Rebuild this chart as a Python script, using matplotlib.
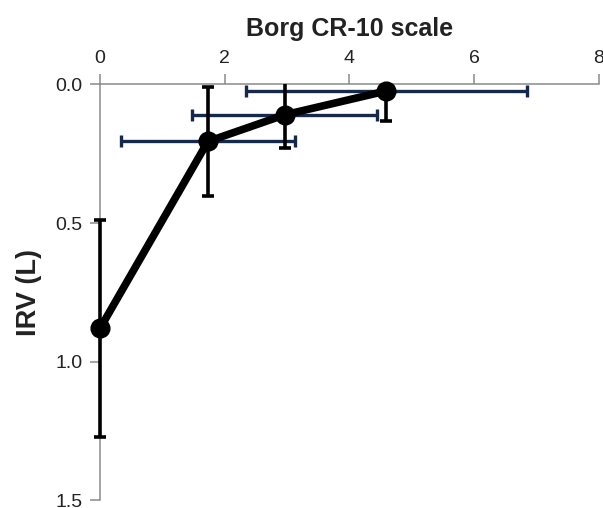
import matplotlib

matplotlib.use("Agg")
import matplotlib.pyplot as plt
from matplotlib.patches import Rectangle

# Borg CR-10 rating vs IRV (mean +/- SD)
borg = [0.0, 1.73, 2.96, 4.59]
borg_sd = [0.0, 1.39, 1.48, 2.25]
irv = [0.88, 0.206, 0.11, 0.024]
irv_sd = [0.39, 0.195, 0.12, 0.108]

x_ticks = [0, 2, 4, 6, 8]
y_ticks = [0.0, 0.5, 1.0, 1.5]
y_tick_labels = ["0.0", "0.5", "1.0", "1.5"]

plt.rcParams["font.family"] = ["Liberation Sans", "DejaVu Sans"]

fig = plt.figure(figsize=(6.03, 5.08), dpi=100)
ax = fig.add_axes([0.1658, 0.0148, 0.8276, 0.8192])

navy = "#15294a"
grey = "#8a8a8a"

# horizontal error bars (Borg SD)
hbar = ax.errorbar(
    borg, irv, xerr=borg_sd, fmt="none", ecolor=navy,
    elinewidth=2.4, capsize=4.5, capthick=2.4, zorder=2,
)

# vertical error bars (IRV SD)
vbar = ax.errorbar(
    borg, irv, yerr=irv_sd, fmt="none", ecolor="black",
    elinewidth=2.6, capsize=4.5, capthick=2.6, zorder=3,
)

# clip to the plot area at the top, but let the x=0 bar show in full
clip = Rectangle((-0.05, 0), 1.1, 1.0, transform=ax.transAxes,
                 facecolor="none", edgecolor="none")
ax.add_patch(clip)
for eb in (hbar, vbar):
    for art in list(eb.lines[1]) + list(eb.lines[2]):
        art.set_clip_path(clip)

ax.plot(borg, irv, color="black", linewidth=5.5, marker="o",
        markersize=13.5, zorder=4, clip_on=False)

ax.set_xlim(0, 8)
ax.set_ylim(1.5, 0)
ax.set_xticks(x_ticks)
ax.set_yticks(y_ticks)
ax.set_yticklabels(y_tick_labels)

ax.xaxis.tick_top()
ax.xaxis.set_label_position("top")
ax.set_xlabel("Borg CR-10 scale", fontsize=18, fontweight="bold",
              color="#222222", labelpad=10)
ax.set_ylabel("IRV (L)", fontsize=19.5, fontweight="bold",
              color="#222222", labelpad=10)

for side in ("right", "bottom"):
    ax.spines[side].set_visible(False)
for side in ("top", "left"):
    ax.spines[side].set_color(grey)
    ax.spines[side].set_linewidth(1.1)

ax.tick_params(axis="both", direction="out", length=7.5, width=1.1,
               color=grey, labelsize=14, labelcolor="#222222", pad=5)

fig.savefig("out.png", dpi=100)
